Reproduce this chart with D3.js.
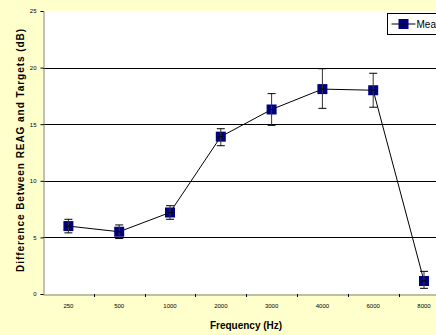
<!DOCTYPE html>
<html>
<head>
<meta charset="utf-8">
<script src="https://cdn.jsdelivr.net/npm/d3@7"></script>
<style>
  body { margin: 0; background: #ffffcc; overflow: hidden; }
  svg { display: block; font-family: "Liberation Sans", Arial, sans-serif; }
</style>
</head>
<body>
<script>
// chart data
var freqs = ["250", "500", "1000", "2000", "3000", "4000", "6000", "8000"];
var means = [6.0, 5.5, 7.2, 13.9, 16.3, 18.1, 18.0, 1.15];
var upper = [6.6, 6.1, 7.8, 14.6, 17.7, 19.9, 19.5, 2.0];
var lower = [5.4, 4.9, 6.6, 13.1, 14.9, 16.4, 16.5, 0.5];
var yTicks = [0, 5, 10, 15, 20, 25];

var W = 436, H = 335;
var svg = d3.select("body").append("svg").attr("width", W).attr("height", H);

var pLeft = 43, pTop = 11, pBottom = 294;
var x = d3.scaleBand().domain(freqs).range([pLeft, pLeft + 8 * 50.8]);
var y = d3.scaleLinear().domain([0, 25]).range([pBottom, pTop]);

// plot area
svg.append("rect").attr("x", pLeft).attr("y", pTop)
   .attr("width", W - pLeft).attr("height", pBottom - pTop).attr("fill", "#fff");

// gridlines
svg.selectAll(".grid").data(yTicks.filter(d => d > 0 && d < 25)).enter()
   .append("line").attr("class", "grid")
   .attr("x1", pLeft).attr("x2", W)
   .attr("y1", d => Math.round(y(d)) + 0.5).attr("y2", d => Math.round(y(d)) + 0.5)
   .attr("stroke", "#000").attr("stroke-width", 1);

// y axis
var yAxis = svg.append("g").attr("transform", "translate(" + (pLeft + 0.5) + ",0)")
   .call(d3.axisLeft(y).tickValues(yTicks).tickSize(3).tickPadding(4));
yAxis.select(".domain").attr("stroke", "#808080");
yAxis.selectAll(".tick line").attr("stroke", "#000");
yAxis.selectAll("text").attr("font-size", 6).attr("fill", "#000")
   .attr("font-family", "Liberation Sans, Arial, sans-serif");

// x axis
var xAxis = svg.append("g").attr("transform", "translate(0," + (pBottom + 0.5) + ")")
   .call(d3.axisBottom(x).tickSize(0).tickPadding(9));
xAxis.select(".domain").attr("stroke", "#808080");
xAxis.selectAll("text").attr("font-size", 6).attr("fill", "#000")
   .attr("font-family", "Liberation Sans, Arial, sans-serif");
svg.selectAll(".xsep").data(freqs.slice(1)).enter().append("line")
   .attr("x1", d => Math.round(x(d)) + 0.5).attr("x2", d => Math.round(x(d)) + 0.5)
   .attr("y1", pBottom).attr("y2", pBottom + 3)
   .attr("stroke", "#000");

// connecting line
var cx = d => x(d) + x.bandwidth() / 2;
svg.append("path")
   .datum(freqs)
   .attr("d", d3.line().x(d => cx(d)).y((d, i) => y(means[i])))
   .attr("fill", "none").attr("stroke", "#000").attr("stroke-width", 1);

// markers
svg.selectAll(".mk").data(freqs).enter().append("rect")
   .attr("x", d => cx(d) - 5).attr("y", (d, i) => y(means[i]) - 5)
   .attr("width", 10).attr("height", 10)
   .attr("fill", "#000080");

// error bars
var eb = svg.selectAll(".eb").data(freqs).enter().append("g");
eb.append("line")
  .attr("x1", d => cx(d)).attr("x2", d => cx(d))
  .attr("y1", (d, i) => y(upper[i])).attr("y2", (d, i) => y(lower[i]))
  .attr("stroke", "#333");
eb.append("line")
  .attr("x1", d => cx(d) - 4).attr("x2", d => cx(d) + 4)
  .attr("y1", (d, i) => y(upper[i])).attr("y2", (d, i) => y(upper[i]))
  .attr("stroke", "#000");
eb.append("line")
  .attr("x1", d => cx(d) - 4).attr("x2", d => cx(d) + 4)
  .attr("y1", (d, i) => y(lower[i])).attr("y2", (d, i) => y(lower[i]))
  .attr("stroke", "#000");
eb.append("line")
  .attr("x1", d => cx(d) - 3).attr("x2", d => cx(d) + 3)
  .attr("y1", (d, i) => y(means[i])).attr("y2", (d, i) => y(means[i]))
  .attr("stroke", "#000");

// legend
var lg = svg.append("g").attr("transform", "translate(387.5,13.5)");
lg.append("rect").attr("width", 60).attr("height", 21)
  .attr("fill", "#fff").attr("stroke", "#000");
lg.append("line").attr("x1", 4).attr("x2", 28).attr("y1", 10.5).attr("y2", 10.5).attr("stroke", "#000");
lg.append("rect").attr("x", 11).attr("y", 5.5).attr("width", 10).attr("height", 10).attr("fill", "#000080");
lg.append("line").attr("x1", 16).attr("x2", 16).attr("y1", 7).attr("y2", 14).attr("stroke", "#000");
lg.append("line").attr("x1", 13).attr("x2", 19).attr("y1", 10.5).attr("y2", 10.5).attr("stroke", "#000");
lg.append("text").attr("x", 29).attr("y", 14).attr("font-size", 10).text("Mean");

// axis titles
svg.append("text")
   .attr("transform", "translate(24,150) rotate(-90)")
   .attr("text-anchor", "middle").attr("font-size", 10).attr("font-weight", "bold")
   .attr("letter-spacing", 0.95)
   .text("Difference Between REAG and Targets (dB)");
svg.append("text")
   .attr("x", 246).attr("y", 329)
   .attr("text-anchor", "middle").attr("font-size", 10).attr("font-weight", "bold")
   .text("Frequency (Hz)");
</script>
</body>
</html>
